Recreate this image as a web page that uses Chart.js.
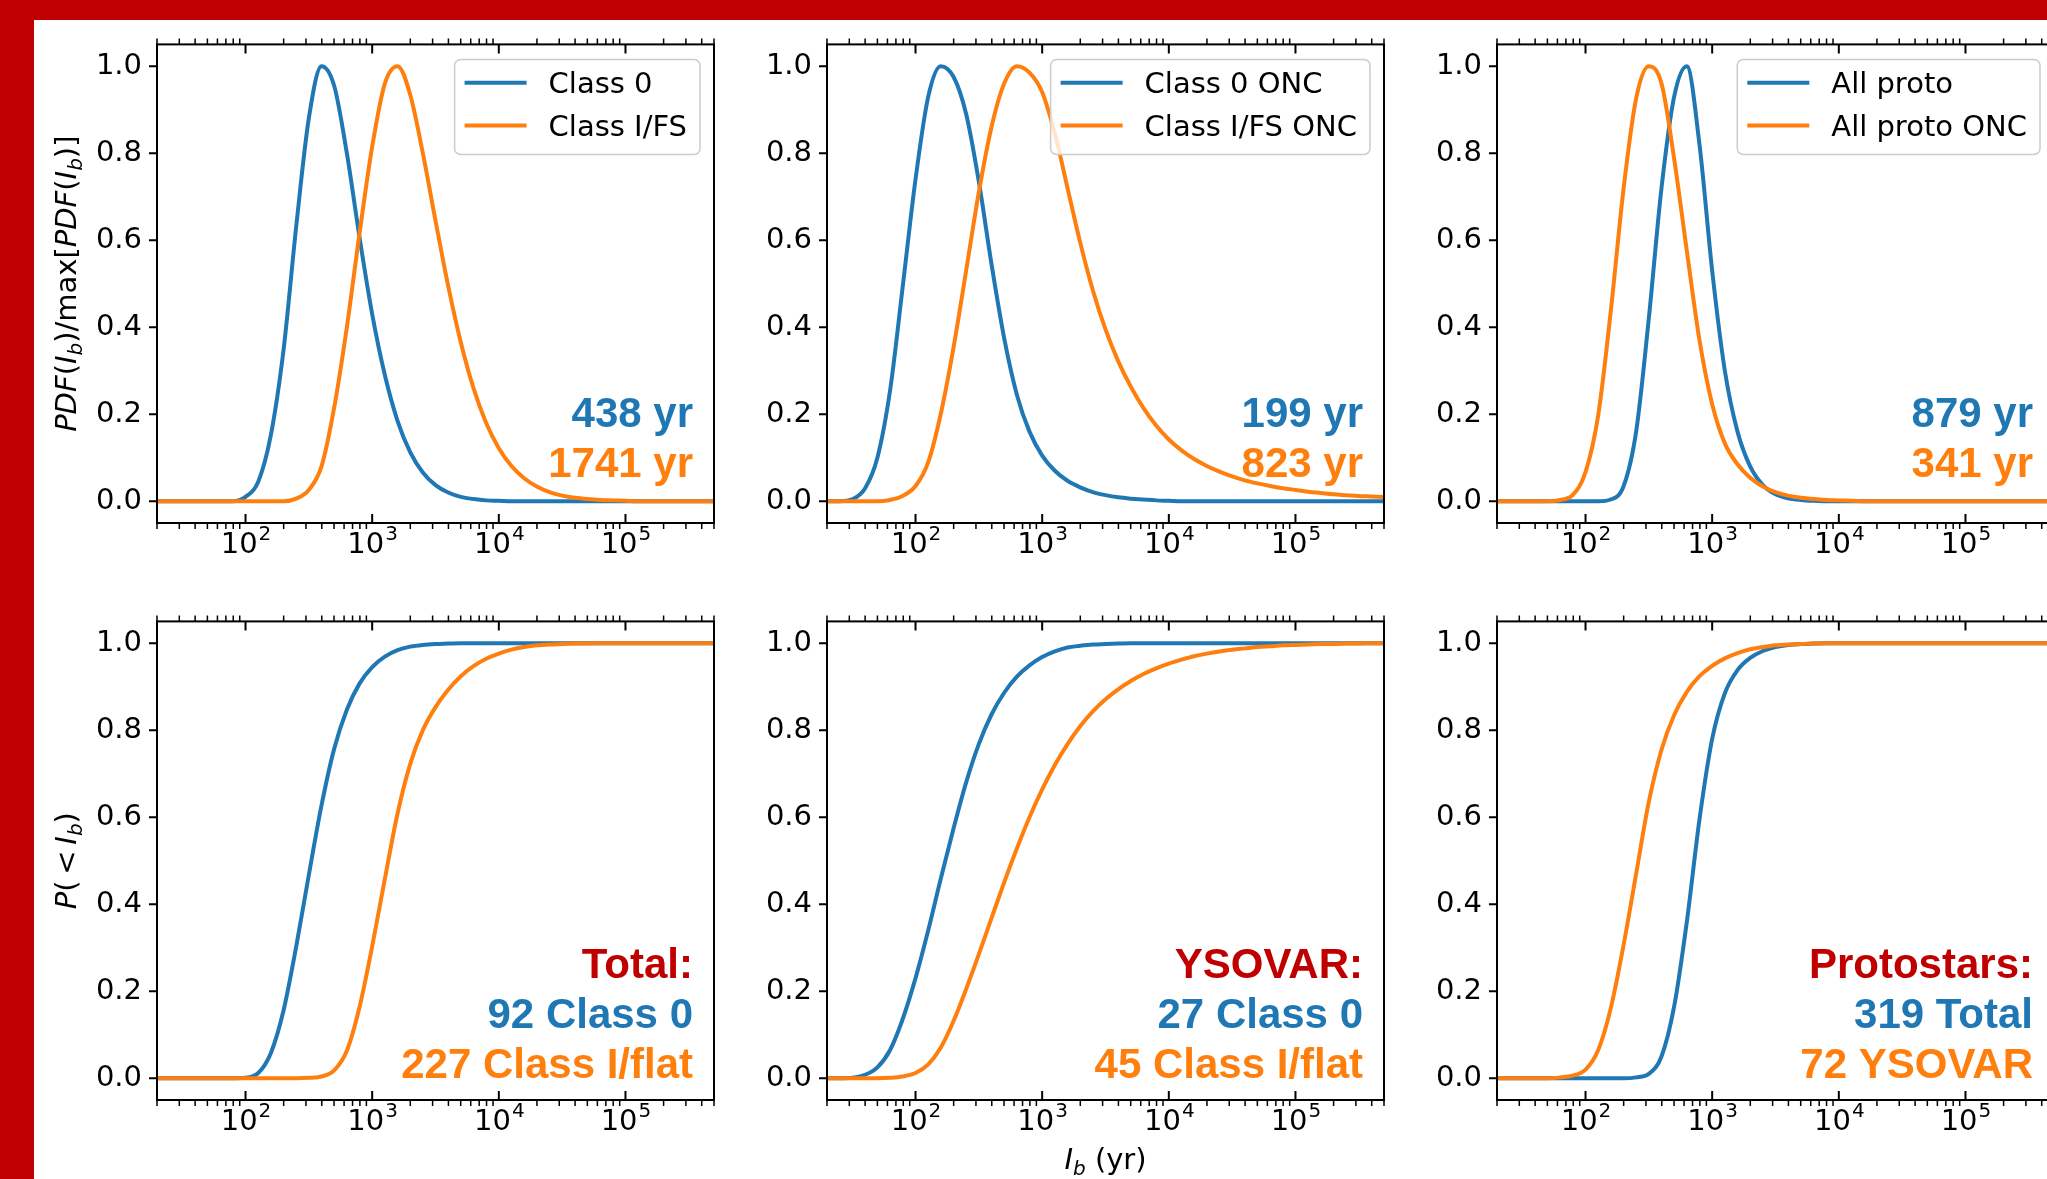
<!DOCTYPE html>
<html>
<head>
<meta charset="utf-8">
<script src="https://cdn.jsdelivr.net/npm/chart.js@4.4.1/dist/chart.umd.min.js"></script>
<style>
  html, body { margin: 0; padding: 0; background: #fff; }
  body { width: 2047px; height: 1179px; position: relative; overflow: hidden; }
  .fascia-alta { position: absolute; left: 0; top: 0; width: 2047px; height: 20px; background: #c00000; }
  .fascia-sx { position: absolute; left: 0; top: 0; width: 34px; height: 1179px; background: #c00000; }
  canvas { position: absolute; }
</style>
</head>
<body>
<div class="fascia-alta"></div>
<div class="fascia-sx"></div>
<canvas id="pdf-totale"></canvas>
<canvas id="pdf-onc"></canvas>
<canvas id="pdf-proto"></canvas>
<canvas id="cdf-totale"></canvas>
<canvas id="cdf-ysovar"></canvas>
<canvas id="cdf-proto"></canvas>
<script>
// Griglia comune di I_b in anni (passi di 0.1 dex, da 20 a 5e5)
const ib = [20, 25, 32, 40, 50, 63, 79, 100, 126, 158, 200, 251, 316, 398, 501, 631, 794,
  1000, 1259, 1585, 1995, 2512, 3162, 3981, 5012, 6310, 7943, 10000, 12589, 15849, 19953,
  25119, 31623, 39811, 50119, 63096, 79433, 100000, 125893, 158489, 199526, 251189,
  316228, 398107, 501187];

// PDF normalizzate al massimo (riga in alto)
const pdfClass0 = [0, 0, 0, 0, 0, 0, 0, 0.01, 0.045, 0.15, 0.35, 0.63, 0.88, 1.0, 0.955,
  0.80, 0.607, 0.43, 0.29, 0.185, 0.113, 0.066, 0.037, 0.02, 0.01, 0.005, 0.002, 0.001,
  0, 0, 0, 0, 0, 0, 0, 0, 0, 0, 0, 0, 0, 0, 0, 0, 0];
const pdfClassI = [0, 0, 0, 0, 0, 0, 0, 0, 0, 0, 0, 0.006, 0.026, 0.08, 0.215, 0.40, 0.615,
  0.815, 0.96, 1.0, 0.935, 0.80, 0.645, 0.495, 0.365, 0.26, 0.18, 0.122, 0.081, 0.053, 0.034,
  0.021, 0.013, 0.008, 0.005, 0.003, 0.002, 0.001, 0, 0, 0, 0, 0, 0, 0];
const pdfClass0Onc = [0, 0, 0.005, 0.03, 0.10, 0.255, 0.49, 0.74, 0.93, 1.0, 0.975,
  0.89, 0.735, 0.545, 0.375, 0.245, 0.16, 0.105, 0.07, 0.047, 0.032, 0.021, 0.014, 0.009,
  0.006, 0.004, 0.002, 0.001, 0, 0, 0, 0, 0, 0, 0, 0, 0, 0, 0, 0, 0, 0, 0, 0, 0];
const pdfClassIOnc = [0, 0, 0, 0, 0, 0.003, 0.012, 0.035, 0.09, 0.20, 0.355, 0.53, 0.71,
  0.86, 0.96, 1.0, 0.985, 0.94, 0.845, 0.72, 0.595, 0.485, 0.395, 0.322, 0.263, 0.214,
  0.174, 0.142, 0.117, 0.097, 0.081, 0.068, 0.057, 0.048, 0.041, 0.035, 0.030, 0.026,
  0.022, 0.019, 0.016, 0.014, 0.012, 0.011, 0.010];
const pdfAllProto = [0, 0, 0, 0, 0, 0, 0, 0, 0, 0.004, 0.035, 0.16, 0.42, 0.72, 0.93, 1.0,
  0.82, 0.53, 0.30, 0.16, 0.08, 0.037, 0.016, 0.007, 0.003, 0.001, 0, 0, 0, 0, 0, 0, 0,
  0, 0, 0, 0, 0, 0, 0, 0, 0, 0, 0, 0];
const pdfAllProtoOnc = [0, 0, 0, 0, 0, 0.003, 0.014, 0.067, 0.198, 0.435, 0.72, 0.926, 1.0,
  0.96, 0.787, 0.575, 0.37, 0.223, 0.133, 0.085, 0.054, 0.034, 0.021, 0.013, 0.008, 0.005,
  0.003, 0.002, 0.001, 0, 0, 0, 0, 0, 0, 0, 0, 0, 0, 0, 0, 0, 0, 0, 0];

// Distribuzioni cumulative (riga in basso)
const cdfClass0 = [0, 0, 0, 0, 0, 0, 0, 0.001, 0.012, 0.057, 0.157, 0.302, 0.467, 0.627,
  0.757, 0.847, 0.907, 0.945, 0.969, 0.984, 0.992, 0.996, 0.998, 0.999,
  1, 1, 1, 1, 1, 1, 1, 1, 1, 1, 1, 1, 1, 1, 1, 1, 1, 1, 1, 1, 1];
const cdfClassI = [0, 0, 0, 0, 0, 0, 0, 0, 0, 0, 0, 0, 0.001, 0.004, 0.018, 0.063, 0.163,
  0.303, 0.458, 0.608, 0.722, 0.80, 0.853, 0.893, 0.924, 0.947, 0.964, 0.976, 0.985, 0.991,
  0.995, 0.997, 0.998, 0.999, 0.999, 1, 1, 1, 1, 1, 1, 1, 1, 1, 1];
const cdfClass0Onc = [0, 0, 0.001, 0.008, 0.025, 0.065, 0.135, 0.23, 0.34, 0.458, 0.575,
  0.68, 0.768, 0.836, 0.886, 0.923, 0.949, 0.968, 0.981, 0.99, 0.994, 0.997, 0.998, 0.999,
  1, 1, 1, 1, 1, 1, 1, 1, 1, 1, 1, 1, 1, 1, 1, 1, 1, 1, 1, 1, 1];
const cdfClassIOnc = [0, 0, 0, 0, 0, 0.001, 0.004, 0.012, 0.032, 0.07, 0.132, 0.205, 0.285,
  0.368, 0.45, 0.528, 0.60, 0.664, 0.72, 0.768, 0.809, 0.843, 0.871, 0.894, 0.913, 0.929,
  0.942, 0.953, 0.962, 0.97, 0.976, 0.981, 0.985, 0.988, 0.991, 0.993, 0.995, 0.996, 0.997,
  0.998, 0.998, 0.999, 0.999, 1, 1];
const cdfAllProto = [0, 0, 0, 0, 0, 0, 0, 0, 0, 0, 0, 0.002, 0.01, 0.05, 0.165, 0.36,
  0.595, 0.78, 0.885, 0.938, 0.966, 0.982, 0.991, 0.996, 0.998, 0.999,
  1, 1, 1, 1, 1, 1, 1, 1, 1, 1, 1, 1, 1, 1, 1, 1, 1, 1, 1];
const cdfAllProtoOnc = [0, 0, 0, 0, 0, 0.002, 0.006, 0.02, 0.065, 0.16, 0.307, 0.47, 0.635,
  0.755, 0.835, 0.888, 0.924, 0.948, 0.965, 0.977, 0.986, 0.991, 0.995, 0.997, 0.998, 0.999,
  1, 1, 1, 1, 1, 1, 1, 1, 1, 1, 1, 1, 1, 1, 1, 1, 1, 1, 1];

// Tacche degli assi
const yTicks = [0, 0.2, 0.4, 0.6, 0.8, 1.0];
const xMajorTicks = [1e2, 1e3, 1e4, 1e5];
const xTickExp = ['2', '3', '4', '5'];
const xMinorTicks = [20, 30, 40, 50, 60, 70, 80, 90,
  200, 300, 400, 500, 600, 700, 800, 900,
  2000, 3000, 4000, 5000, 6000, 7000, 8000, 9000,
  20000, 30000, 40000, 50000, 60000, 70000, 80000, 90000,
  200000, 300000, 400000, 500000];

// Etichette della legenda
const legendaTotale = ['Class 0', 'Class I/FS'];
const legendaOnc = ['Class 0 ONC', 'Class I/FS ONC'];
const legendaProto = ['All proto', 'All proto ONC'];

// Titoli degli assi: [testo, stile] con n = normale, i = corsivo, b = pedice
const titoloPdf = [['PDF', 'i'], ['(', 'n'], ['I', 'i'], ['b', 'b'], [')', 'n'], ['/max[', 'n'],
  ['PDF', 'i'], ['(', 'n'], ['I', 'i'], ['b', 'b'], [')]', 'n']];
const titoloCdf = [['P', 'i'], ['(\u2009<\u2009', 'n'], ['I', 'i'], ['b', 'b'], [')', 'n']];
const titoloX = [['I', 'i'], ['b', 'b'], [' (yr)', 'n']];

const BLU = '#1f77b4';
const ARANCIO = '#ff7f0e';
const ROSSO = '#c00000';
const FONT = '"DejaVu Sans"';

// Geometria dei pannelli (area del grafico in pixel della pagina)
const colLeft = [157, 827, 1497];
const rowTop = [42, 619];
const plotW = 557;
const plotH = 481;
const PAD_L = 120, PAD_T = 30, PAD_R = 20, PAD_B = 80;

function testoMisto(ctx, parti, x, y) {
    const fonts = {
        n: '29px ' + FONT,
        i: 'italic 29px ' + FONT,
        b: 'italic 20px ' + FONT
    };
    let w = 0;
    parti.forEach(([t, s]) => { ctx.font = fonts[s]; w += ctx.measureText(t).width; });
    let cx = x - w / 2;
    parti.forEach(([t, s]) => {
        ctx.font = fonts[s];
        ctx.fillText(t, cx, y + (s === 'b' ? 6 : 0));
        cx += ctx.measureText(t).width;
    });
}

// Plugin per cornice, tacche, etichette x, legenda e scritte
function decorazioni(p) {
    return {
        id: 'decorazioni',
        afterDatasetsDraw(chart) {
            const ctx = chart.ctx;
            const a = chart.chartArea;
            const sx = chart.scales.x, sy = chart.scales.y;
            ctx.save();
            ctx.strokeStyle = '#000';

            // tacche minori verso l'esterno (sopra e sotto)
            ctx.lineWidth = 1.5;
            ctx.beginPath();
            xMinorTicks.forEach(v => {
                const px = sx.getPixelForValue(v);
                ctx.moveTo(px, a.top); ctx.lineTo(px, a.top - 6);
                ctx.moveTo(px, a.bottom); ctx.lineTo(px, a.bottom + 6);
            });
            ctx.stroke();

            // tacche maggiori verso l'interno, tacche y verso l'esterno
            ctx.lineWidth = 2;
            ctx.beginPath();
            xMajorTicks.forEach(v => {
                const px = sx.getPixelForValue(v);
                ctx.moveTo(px, a.top); ctx.lineTo(px, a.top + 9);
                ctx.moveTo(px, a.bottom); ctx.lineTo(px, a.bottom - 9);
            });
            yTicks.forEach(v => {
                const py = sy.getPixelForValue(v);
                ctx.moveTo(a.left, py); ctx.lineTo(a.left - 8, py);
            });
            ctx.stroke();
            ctx.strokeRect(a.left, a.top, a.right - a.left, a.bottom - a.top);

            // etichette 10^n
            ctx.fillStyle = '#000';
            ctx.textBaseline = 'alphabetic';
            ctx.textAlign = 'left';
            xMajorTicks.forEach((v, i) => {
                const px = sx.getPixelForValue(v);
                ctx.font = '29px ' + FONT;
                const w1 = ctx.measureText('10').width;
                ctx.font = '20px ' + FONT;
                const w2 = ctx.measureText(xTickExp[i]).width;
                const x0 = px - (w1 + w2) / 2;
                ctx.font = '29px ' + FONT;
                ctx.fillText('10', x0, a.bottom + 30);
                ctx.font = '20px ' + FONT;
                ctx.fillText(xTickExp[i], x0 + w1 + 1, a.bottom + 17);
            });

            // titoli degli assi
            if (p.titoloY) {
                ctx.save();
                ctx.translate(a.left - 81, (a.top + a.bottom) / 2);
                ctx.rotate(-Math.PI / 2);
                testoMisto(ctx, p.titoloY, 0, 0);
                ctx.restore();
            }
            if (p.titoloX) {
                testoMisto(ctx, p.titoloX, (a.left + a.right) / 2, a.bottom + 69);
            }

            // scritte colorate in basso a destra
            ctx.font = 'bold 42px "Liberation Sans"';
            ctx.textAlign = 'right';
            const n = p.note.length;
            p.note.forEach(([t, c], i) => {
                ctx.fillStyle = c;
                ctx.fillText(t, a.right - 21, a.bottom - p.baseNote - (n - 1 - i) * 50);
            });

            // legenda
            if (p.legenda) {
                const ds = chart.data.datasets;
                ctx.font = '29px ' + FONT;
                ctx.textAlign = 'left';
                const tw = Math.max(...ds.map(d => ctx.measureText(d.label).width));
                const w = 11 + 62 + 22 + tw + 12, h = 95;
                const x0 = a.right - 14 - w, y0 = a.top + 15;
                ctx.beginPath();
                ctx.roundRect(x0, y0, w, h, 6);
                ctx.fillStyle = 'rgba(255,255,255,0.8)';
                ctx.fill();
                ctx.strokeStyle = '#cccccc';
                ctx.lineWidth = 1.5;
                ctx.stroke();
                ds.forEach((d, i) => {
                    const yy = y0 + 23.4 + i * 42.8;
                    ctx.strokeStyle = d.borderColor;
                    ctx.lineWidth = 4;
                    ctx.beginPath();
                    ctx.moveTo(x0 + 10, yy);
                    ctx.lineTo(x0 + 72, yy);
                    ctx.stroke();
                    ctx.fillStyle = '#000';
                    ctx.fillText(d.label, x0 + 94, yy + 10.6);
                });
            }
            ctx.restore();
        }
    };
}

function creaPannello(p) {
    const canvas = document.getElementById(p.id);
    const W = plotW + PAD_L + PAD_R, H = plotH + PAD_T + PAD_B;
    canvas.width = W;
    canvas.height = H;
    canvas.style.left = (colLeft[p.col] - PAD_L) + 'px';
    canvas.style.top = (rowTop[p.row] - PAD_T) + 'px';
    canvas.style.width = W + 'px';
    canvas.style.height = H + 'px';

    const colori = [BLU, ARANCIO];
    return new Chart(canvas, {
        type: 'line',
        data: {
            datasets: p.serie.map((s, k) => ({
                label: p.etichette[k],
                data: ib.map((x, i) => ({ x: x, y: s[i] })),
                borderColor: colori[k],
                backgroundColor: colori[k],
                borderWidth: 4,
                pointRadius: 0,
                fill: false,
                cubicInterpolationMode: 'monotone',
                order: 2 - k // arancione sopra il blu
            }))
        },
        options: {
            responsive: false,
            devicePixelRatio: 1,
            animation: false,
            events: [],
            layout: { padding: { top: PAD_T, right: PAD_R, left: 0, bottom: 0 }, autoPadding: false },
            plugins: { legend: { display: false }, tooltip: { enabled: false } },
            scales: {
                x: {
                    type: 'logarithmic',
                    min: 20,
                    max: 500000,
                    grid: { display: false, drawTicks: false },
                    border: { display: false },
                    ticks: { display: false },
                    afterFit: s => { s.height = PAD_B; }
                },
                y: {
                    type: 'linear',
                    min: -0.05,
                    max: 1.05,
                    grid: { display: false, drawTicks: false },
                    border: { display: false },
                    ticks: {
                        color: '#000',
                        padding: 15,
                        font: { family: 'DejaVu Sans', size: 29 },
                        callback: v => v.toFixed(1)
                    },
                    afterBuildTicks: s => { s.ticks = yTicks.map(v => ({ value: v })); },
                    afterFit: s => { s.width = PAD_L; }
                }
            }
        },
        plugins: [decorazioni(p)]
    });
}

const pannelli = [
    { id: 'pdf-totale', col: 0, row: 0, serie: [pdfClass0, pdfClassI], etichette: legendaTotale,
      legenda: true, titoloY: titoloPdf, baseNote: 46,
      note: [['438 yr', BLU], ['1741 yr', ARANCIO]] },
    { id: 'pdf-onc', col: 1, row: 0, serie: [pdfClass0Onc, pdfClassIOnc], etichette: legendaOnc,
      legenda: true, baseNote: 46,
      note: [['199 yr', BLU], ['823 yr', ARANCIO]] },
    { id: 'pdf-proto', col: 2, row: 0, serie: [pdfAllProto, pdfAllProtoOnc], etichette: legendaProto,
      legenda: true, baseNote: 46,
      note: [['879 yr', BLU], ['341 yr', ARANCIO]] },
    { id: 'cdf-totale', col: 0, row: 1, serie: [cdfClass0, cdfClassI], etichette: legendaTotale,
      titoloY: titoloCdf, baseNote: 22.5,
      note: [['Total:', ROSSO], ['92 Class 0', BLU], ['227 Class I/flat', ARANCIO]] },
    { id: 'cdf-ysovar', col: 1, row: 1, serie: [cdfClass0Onc, cdfClassIOnc], etichette: legendaOnc,
      titoloX: titoloX, baseNote: 22.5,
      note: [['YSOVAR:', ROSSO], ['27 Class 0', BLU], ['45 Class I/flat', ARANCIO]] },
    { id: 'cdf-proto', col: 2, row: 1, serie: [cdfAllProto, cdfAllProtoOnc], etichette: legendaProto,
      baseNote: 22.5,
      note: [['Protostars:', ROSSO], ['319 Total', BLU], ['72 YSOVAR', ARANCIO]] }
];

document.addEventListener('DOMContentLoaded', function() {
    pannelli.forEach(creaPannello);
});
</script>
</body>
</html>
